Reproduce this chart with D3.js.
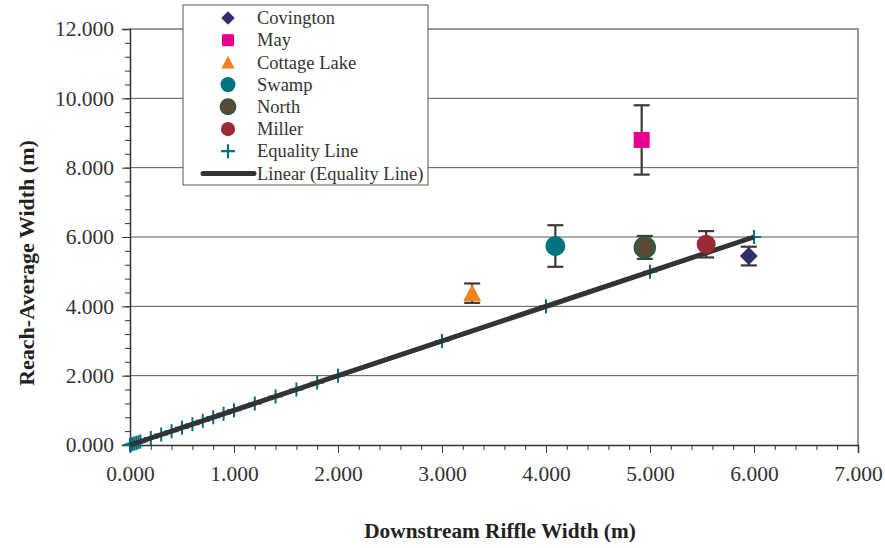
<!DOCTYPE html>
<html><head><meta charset="utf-8">
<script src="https://cdn.jsdelivr.net/npm/d3@7"></script>
<style>body{margin:0;background:#fff}svg{display:block}text{font-family:"Liberation Serif","Times New Roman",serif}</style>
</head><body><svg id="c" width="885" height="548"></svg>
<script>
const seriesNames = ["Covington","May","Cottage Lake","Swamp","North","Miller"];
const seriesX = [5.95, 4.92, 3.29, 4.09, 4.95, 5.54];
const seriesY = [5.45, 8.80, 4.38, 5.74, 5.70, 5.79];
const seriesErr = [0.27, 1.00, 0.28, 0.60, 0.33, 0.38];
const equalityX = [0, 0.02, 0.04, 0.06, 0.08, 0.1, 0.2, 0.3, 0.4, 0.5, 0.6, 0.7, 0.8, 0.9, 1.0, 1.2, 1.4, 1.6, 1.8, 2.0, 3.0, 4.0, 5.0, 6.0];
const xTicks = [0,1,2,3,4,5,6,7];
const yTicks = [0,2,4,6,8,10,12];

const colors = ["#2f2f6b","#e8008c","#f58220","#007380","#5a4a36","#9c2a36"];
const svg = d3.select("#c");
const x = d3.scaleLinear().domain([0,7]).range([130,858]);
const y = d3.scaleLinear().domain([0,12]).range([445,29]);

// gridlines
svg.append("g").selectAll("line").data(yTicks.filter(d=>d>0&&d<12)).join("line")
  .attr("x1",x(0)).attr("x2",x(7)).attr("y1",d=>y(d)).attr("y2",d=>y(d))
  .attr("stroke","#555").attr("stroke-width",1);
// top/right frame
svg.append("path").attr("d",`M${x(0)},${y(12)}H${x(7)}V${y(0)}`).attr("fill","none").attr("stroke","#a09494").attr("stroke-width",2);

// axes
const fmt = d3.format(".3f");
const yAxis = svg.append("g").attr("transform",`translate(${x(0)},0)`)
  .call(d3.axisLeft(y).tickValues(yTicks).tickFormat(fmt).tickSize(8).tickPadding(8));
const yMinor = svg.append("g").attr("transform",`translate(${x(0)},0)`)
  .call(d3.axisLeft(y).tickValues(d3.range(0,12.01,0.4)).tickFormat("").tickSize(5));
const xAxis = svg.append("g").attr("transform",`translate(0,${y(0)})`)
  .call(d3.axisBottom(x).tickValues(xTicks).tickFormat(fmt).tickSize(8).tickPadding(13));
const xMinor = svg.append("g").attr("transform",`translate(0,${y(0)})`)
  .call(d3.axisBottom(x).tickValues(d3.range(0,7.01,0.2)).tickFormat("").tickSize(5));
[yAxis,yMinor,xAxis,xMinor].forEach(g=>{
  g.attr("font-family","Liberation Serif").attr("font-size",21.5);
  g.select(".domain").attr("stroke","#333").attr("stroke-width",1.5);
  g.selectAll(".tick line").attr("stroke","#333").attr("stroke-width",1);
  g.selectAll("text").attr("fill","#333");
});
xMinor.select(".domain").remove(); yMinor.select(".domain").remove();

// axis titles
svg.append("text").attr("x",500).attr("y",538).attr("text-anchor","middle")
  .attr("font-weight","bold").attr("font-size","21.3px").attr("fill","#222").text("Downstream Riffle Width (m)");
svg.append("text").attr("transform",`translate(34,263) rotate(-90)`).attr("text-anchor","middle")
  .attr("font-weight","bold").attr("font-size","22px").attr("fill","#222").text("Reach-Average Width (m)");

// equality markers
const plus = "M-7,0H7M0,-7V7";
svg.append("g").selectAll("path").data(equalityX).join("path")
  .attr("transform",d=>`translate(${x(d)},${y(d)})`).attr("d",plus)
  .attr("stroke","#00707a").attr("stroke-width",2).attr("fill","none");
// linear line
svg.append("line").attr("x1",x(0)).attr("y1",y(0)).attr("x2",x(6)).attr("y2",y(6))
  .attr("stroke","#333").attr("stroke-width",5).attr("stroke-linecap","butt");

// error bars
const eb = svg.append("g").attr("stroke","#3a3a3a").attr("stroke-width",2.2);
seriesX.forEach((xv,i)=>{
  const cx=x(xv), y1=y(seriesY[i]+seriesErr[i]), y2=y(seriesY[i]-seriesErr[i]);
  eb.append("line").attr("x1",cx).attr("x2",cx).attr("y1",y1).attr("y2",y2);
  eb.append("line").attr("x1",cx-8).attr("x2",cx+8).attr("y1",y1).attr("y2",y1);
  eb.append("line").attr("x1",cx-8).attr("x2",cx+8).attr("y1",y2).attr("y2",y2);
});

function marker(g,i,cx,cy,scale){
  const s=scale||1;
  if(i===0) g.append("path").attr("d",`M${cx},${cy-9*s}L${cx+9*s},${cy}L${cx},${cy+9*s}L${cx-9*s},${cy}Z`).attr("fill",colors[0]);
  else if(i===1) g.append("rect").attr("x",cx-8*s).attr("y",cy-8*s).attr("width",16*s).attr("height",16*s).attr("fill",colors[1]);
  else if(i===2) g.append("path").attr("d",`M${cx},${cy-9*s}L${cx+9*s},${cy+8*s}L${cx-9*s},${cy+8*s}Z`).attr("fill",colors[2]);
  else if(i===3) g.append("circle").attr("cx",cx).attr("cy",cy).attr("r",10*s).attr("fill",colors[3]);
  else if(i===4) g.append("circle").attr("cx",cx).attr("cy",cy).attr("r",10*s).attr("fill",colors[4]).attr("stroke","#2e5a3c").attr("stroke-width",2.5*s);
  else if(i===5) g.append("circle").attr("cx",cx).attr("cy",cy).attr("r",9.5*s).attr("fill",colors[5]);
}
const mk = svg.append("g");
seriesX.forEach((xv,i)=>marker(mk,i,x(xv),y(seriesY[i])));

// legend
const lg = svg.append("g");
lg.append("rect").attr("x",183).attr("y",5).attr("width",245).attr("height",180).attr("fill","#fff").attr("stroke","#555").attr("stroke-width",1);
const legendNames = seriesNames.concat(["Equality Line","Linear (Equality Line)"]);
legendNames.forEach((n,i)=>{
  const cy = 18 + i*22.2;
  if(i<6) marker(lg,i,228,cy,0.75);
  else if(i===6) lg.append("path").attr("transform",`translate(228,${cy})`).attr("d",plus).attr("stroke","#00707a").attr("stroke-width",2.2);
  else lg.append("line").attr("x1",203).attr("x2",254).attr("y1",cy).attr("y2",cy).attr("stroke","#333").attr("stroke-width",5).attr("stroke-linecap","round");
  lg.append("text").attr("x",257).attr("y",cy).attr("dy","0.34em").attr("font-size","18.5px").attr("fill","#333").text(n);
});
</script></body></html>
